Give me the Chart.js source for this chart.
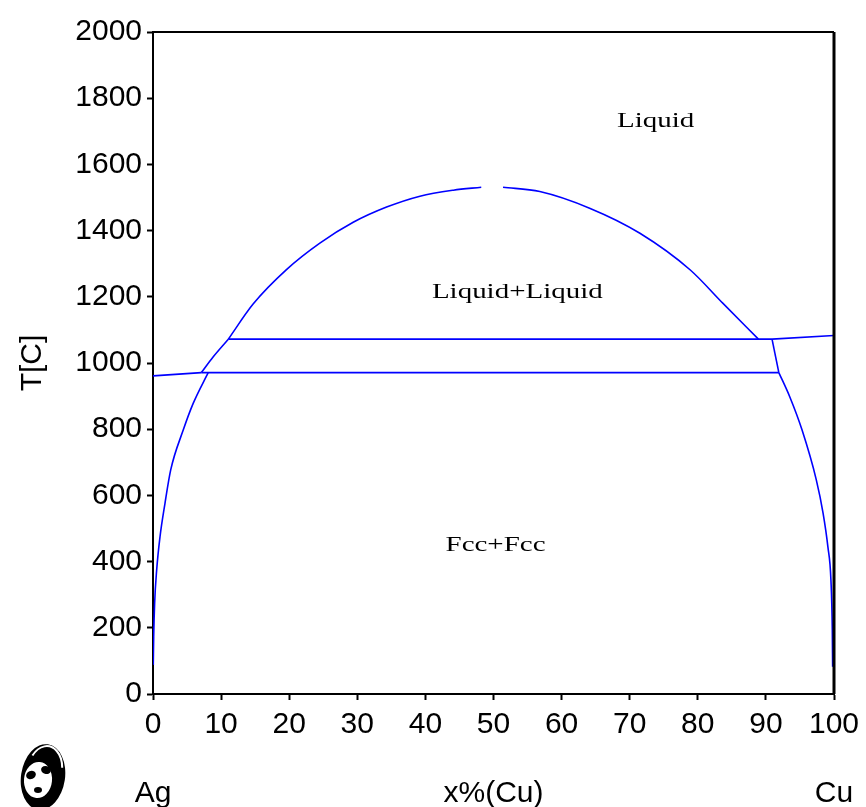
<!DOCTYPE html>
<html><head><meta charset="utf-8">
<script src="https://cdn.jsdelivr.net/npm/chart.js@4/dist/chart.umd.min.js"></script>
<style>html,body{margin:0;padding:0;background:#fff;}#wrap{width:866px;height:807px;position:relative;}</style>
</head><body><div id="wrap"><canvas id="c" width="866" height="807"></canvas></div>
<script>
// ---- data ----
const xTickStep = 10, xMin = 0, xMax = 100;
const tTickStep = 200, tMin = 0, tMax = 2000;
const bottomLabels = ['Ag', 'x%(Cu)', 'Cu'];
const bottomLabelPos = [0, 50, 100];
const yTitle = 'T[C]';

const agLiquidusX = [0, 7.1];
const agLiquidusT = [961, 971];
const agLiquidus2X = [7.1, 8.85, 11.06];
const agLiquidus2T = [971, 1019, 1072];
const gapLeftX = [11.06, 14.7, 19.6, 24.5, 29.4, 34.3, 39.2, 44.1, 48.2];
const gapLeftT = [1072, 1178, 1282, 1362, 1425, 1471, 1504, 1522, 1531];
const gapRightX = [51.4, 56.8, 64.2, 71.5, 78.9, 83.7, 88.9];
const gapRightT = [1531, 1518, 1467, 1392, 1281, 1180, 1072];
const monotecticX = [11.06, 90.9];
const monotecticT = [1072, 1072];
const cuLiquidusX = [90.9, 100];
const cuLiquidusT = [1072, 1083];
const eutecticX = [7.1, 91.9];
const eutecticT = [971, 971];
const cuSolidusX = [90.9, 91.9];
const cuSolidusT = [1072, 971];
const agSolvusX = [8.1, 5.9, 4.45, 2.6, 1.76, 1.03, 0.54, 0.24, 0.1, 0.04];
const agSolvusT = [971, 878, 798, 677, 576, 475, 375, 274, 173, 88];
const cuSolvusX = [91.9, 93.5, 95.3, 97.4, 98.4, 99.1, 99.55, 99.75, 99.8];
const cuSolvusT = [971, 898, 798, 647, 546, 445, 344, 193, 82];

const regionNames = ['Liquid', 'Liquid+Liquid', 'Fcc+Fcc'];
const regionX = [73.8, 53.5, 50.3];
const regionT = [1731, 1214, 450];

// ---- chart ----
const curves = [
  [agLiquidusX, agLiquidusT, false],
  [agLiquidus2X, agLiquidus2T, true],
  [gapLeftX, gapLeftT, true],
  [gapRightX, gapRightT, true],
  [monotecticX, monotecticT, false],
  [cuLiquidusX, cuLiquidusT, false],
  [eutecticX, eutecticT, false],
  [cuSolidusX, cuSolidusT, false],
  [agSolvusX, agSolvusT, true],
  [cuSolvusX, cuSolvusT, true]
];
const BLUE = '#0000ff';
const datasets = curves.map(c => ({
  data: c[0].map((v, i) => ({x: v, y: c[1][i]})),
  borderColor: BLUE, backgroundColor: BLUE, borderWidth: 1.6,
  pointRadius: 0, showLine: true, fill: false,
  cubicInterpolationMode: c[2] ? 'monotone' : 'default', tension: 0
}));

const tickFont = {family: '"Liberation Sans", Arial, sans-serif', size: 30};

const framePlugin = {
  id: 'frame',
  afterDraw(chart) {
    const {ctx, chartArea: a} = chart;
    ctx.save();
    ctx.strokeStyle = '#000';
    ctx.lineWidth = 2;
    ctx.beginPath();
    ctx.moveTo(a.left, a.top); ctx.lineTo(a.right, a.top);
    ctx.stroke();
    ctx.lineWidth = 3;
    ctx.beginPath();
    ctx.moveTo(a.right, a.top); ctx.lineTo(a.right, a.bottom);
    ctx.stroke();
    ctx.restore();
  }
};

const regionPlugin = {
  id: 'regions',
  afterDraw(chart) {
    const {ctx} = chart;
    const xs = chart.scales.x, ys = chart.scales.y;
    ctx.save();
    ctx.fillStyle = '#000';
    ctx.font = '21px "Liberation Serif", "Times New Roman", serif';
    ctx.textAlign = 'center';
    ctx.textBaseline = 'middle';
    regionNames.forEach((t, i) => {
      const px = xs.getPixelForValue(regionX[i]);
      const py = ys.getPixelForValue(regionT[i]);
      ctx.save();
      ctx.translate(px, py);
      ctx.scale(1.38, 1);
      ctx.fillText(t, 0, 0);
      ctx.restore();
    });
    ctx.restore();
  }
};

const pandaPlugin = {
  id: 'panda',
  afterDraw(chart) {
    const ctx = chart.ctx;
    ctx.save();
    ctx.fillStyle = '#000';
    ctx.beginPath();
    ctx.ellipse(43, 777, 22, 33, 0.15, 0, Math.PI * 2);
    ctx.fill();
    ctx.strokeStyle = '#fff';
    ctx.lineWidth = 2;
    ctx.beginPath();
    ctx.ellipse(45, 770, 17, 24, 0.15, -2.6, -0.2);
    ctx.stroke();
    ctx.fillStyle = '#fff';
    ctx.beginPath();
    ctx.ellipse(38, 780, 14, 18, 0.1, 0, Math.PI * 2);
    ctx.fill();
    ctx.fillStyle = '#000';
    ctx.beginPath(); ctx.ellipse(31, 775, 5, 4, -0.4, 0, Math.PI * 2); ctx.fill();
    ctx.beginPath(); ctx.ellipse(46, 770, 5, 4, 0.3, 0, Math.PI * 2); ctx.fill();
    ctx.beginPath(); ctx.ellipse(38, 790, 4, 3, 0, 0, Math.PI * 2); ctx.fill();
    ctx.restore();
  }
};

function noSidePad(s) { s.paddingLeft = 0; s.paddingRight = 0; }

new Chart(document.getElementById('c'), {
  type: 'scatter',
  data: {datasets},
  options: {
    responsive: false, animation: false, devicePixelRatio: 1,
    layout: {padding: {top: 32, right: 32, left: 0, bottom: 0}},
    plugins: {legend: {display: false}, tooltip: {enabled: false}},
    scales: {
      x: {
        type: 'linear', position: 'bottom', weight: 0, min: xMin, max: xMax,
        ticks: {stepSize: xTickStep, font: tickFont, color: '#000', padding: 7, maxRotation: 0, autoSkip: false,
          callback: v => String(v)},
        grid: {drawOnChartArea: false, tickLength: 6, tickColor: '#000', tickWidth: 2},
        border: {color: '#000', width: 2},
        afterFit(s) { s.height = 60; noSidePad(s); }
      },
      xName: {
        type: 'linear', position: 'bottom', weight: 1, min: xMin, max: xMax,
        afterBuildTicks(s) { s.ticks = bottomLabelPos.map(v => ({value: v})); },
        ticks: {font: tickFont, color: '#000', padding: 14, maxRotation: 0, autoSkip: false,
          callback: v => bottomLabels[bottomLabelPos.indexOf(v)]},
        grid: {display: false}, border: {display: false},
        afterFit(s) { s.height = 53; noSidePad(s); }
      },
      y: {
        type: 'linear', position: 'left', min: tMin, max: tMax,
        ticks: {stepSize: tTickStep, font: tickFont, color: '#000', padding: 5, callback: v => String(v)},
        grid: {drawOnChartArea: false, tickLength: 6, tickColor: '#000', tickWidth: 2},
        border: {color: '#000', width: 2},
        title: {display: true, text: yTitle, font: tickFont, color: '#000', padding: {top: 15, bottom: 0}},
        afterFit(s) { s.width = 153; }
      }
    }
  },
  plugins: [framePlugin, regionPlugin, pandaPlugin]
});
</script>
</body></html>
